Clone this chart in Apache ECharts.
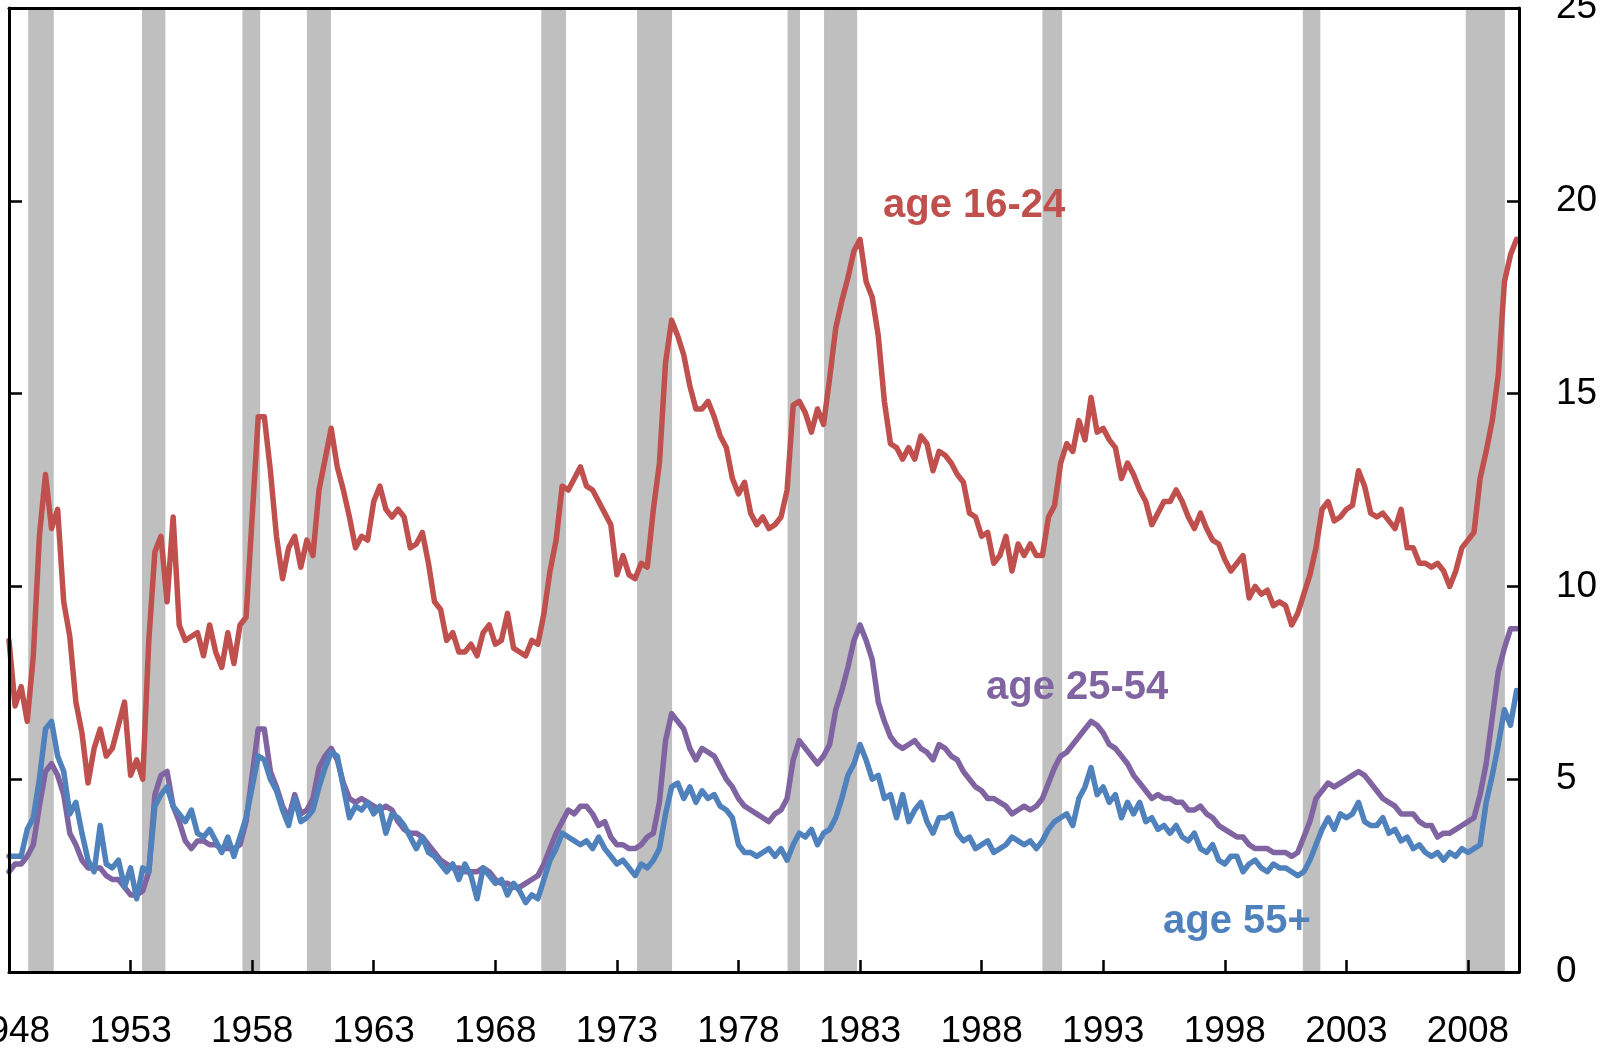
<!DOCTYPE html>
<html lang="en">
<head>
    <meta charset="UTF-8">
    <title>Unemployment rate by age</title>
    <style type="text/css">
        *{
            margin: 0px;
            padding: 0px;
        }
        body{
            background-color: #fff;
        }
        #chart{
            width: 1616px;
            height: 1051px;
        }
    </style>
</head>
<body>

<div id="chart"></div>

<script src="https://cdn.jsdelivr.net/npm/echarts/dist/echarts.min.js"></script>
<script type="text/javascript">
    // quarterly readings, first point = 1948 Q1, last point = 2010 Q1
    var startYear = 1948;
    var step = 0.25;

    var youth = [
        8.6, 6.9, 7.4, 6.5,      // 1948
        8.2, 11.3, 12.9, 11.5,   // 1949
        12.0, 9.6, 8.7, 7.0,     // 1950
        6.2, 4.9, 5.8, 6.3,      // 1951
        5.6, 5.8, 6.4, 7.0,      // 1952
        5.1, 5.5, 5.0, 8.6,      // 1953
        10.9, 11.3, 9.6, 11.8,   // 1954
        9.0, 8.6, 8.7, 8.8,      // 1955
        8.2, 9.0, 8.3, 7.9,      // 1956
        8.8, 8.0, 9.0, 9.2,      // 1957
        11.8, 14.4, 14.4, 13.0,  // 1958
        11.3, 10.2, 11.0, 11.3,  // 1959
        10.5, 11.2, 10.8, 12.5,  // 1960
        13.3, 14.1, 13.1, 12.5,  // 1961
        11.8, 11.0, 11.3, 11.2,  // 1962
        12.2, 12.6, 12.0, 11.8,  // 1963
        12.0, 11.8, 11.0, 11.1,  // 1964
        11.4, 10.6, 9.6, 9.4,    // 1965
        8.6, 8.8, 8.3, 8.3,      // 1966
        8.5, 8.2, 8.8, 9.0,      // 1967
        8.5, 8.6, 9.3, 8.4,      // 1968
        8.3, 8.2, 8.6, 8.5,      // 1969
        9.3, 10.4, 11.2, 12.6,   // 1970
        12.5, 12.8, 13.1, 12.6,  // 1971
        12.5, 12.2, 11.9, 11.6,  // 1972
        10.3, 10.8, 10.3, 10.2,  // 1973
        10.6, 10.5, 12.0, 13.2,  // 1974
        15.8, 16.9, 16.5, 16.0,  // 1975
        15.2, 14.6, 14.6, 14.8,  // 1976
        14.4, 13.9, 13.6, 12.8,  // 1977
        12.4, 12.7, 11.9, 11.6,  // 1978
        11.8, 11.5, 11.6, 11.8,  // 1979
        12.5, 14.7, 14.8, 14.5,  // 1980
        14.0, 14.6, 14.2, 15.4,  // 1981
        16.7, 17.4, 18.0, 18.7,  // 1982
        19.0, 17.9, 17.5, 16.5,  // 1983
        14.8, 13.7, 13.6, 13.3,  // 1984
        13.6, 13.3, 13.9, 13.7,  // 1985
        13.0, 13.5, 13.4, 13.2,  // 1986
        12.9, 12.7, 11.9, 11.8,  // 1987
        11.3, 11.4, 10.6, 10.8,  // 1988
        11.3, 10.4, 11.1, 10.8,  // 1989
        11.1, 10.8, 10.8, 11.8,  // 1990
        12.1, 13.2, 13.7, 13.5,  // 1991
        14.3, 13.8, 14.9, 14.0,  // 1992
        14.1, 13.8, 13.6, 12.8,  // 1993
        13.2, 12.9, 12.5, 12.2,  // 1994
        11.6, 11.9, 12.2, 12.2,  // 1995
        12.5, 12.2, 11.8, 11.5,  // 1996
        11.9, 11.5, 11.2, 11.1,  // 1997
        10.7, 10.4, 10.6, 10.8,  // 1998
        9.7, 10.0, 9.8, 9.9,     // 1999
        9.5, 9.6, 9.5, 9.0,      // 2000
        9.3, 9.8, 10.3, 11.0,    // 2001
        12.0, 12.2, 11.7, 11.8,  // 2002
        12.0, 12.1, 13.0, 12.6,  // 2003
        11.9, 11.8, 11.9, 11.7,  // 2004
        11.5, 12.0, 11.0, 11.0,  // 2005
        10.6, 10.6, 10.5, 10.6,  // 2006
        10.4, 10.0, 10.4, 11.0,  // 2007
        11.2, 11.4, 12.8, 13.5,  // 2008
        14.3, 15.5, 17.9, 18.6,  // 2009
        19.0                     // 2010
    ];

    var prime = [
        2.6, 2.8, 2.8, 3.0,   // 1948
        3.3, 4.3, 5.2, 5.4,   // 1949
        5.1, 4.6, 3.6, 3.3,   // 1950
        2.9, 2.7, 2.7, 2.7,   // 1951
        2.5, 2.4, 2.4, 2.2,   // 1952
        2.0, 2.0, 2.1, 2.6,   // 1953
        4.6, 5.1, 5.2, 4.3,   // 1954
        3.9, 3.4, 3.2, 3.4,   // 1955
        3.4, 3.3, 3.3, 3.2,   // 1956
        3.2, 3.2, 3.3, 3.9,   // 1957
        5.1, 6.3, 6.3, 5.2,   // 1958
        4.8, 4.3, 4.0, 4.6,   // 1959
        4.1, 4.2, 4.5, 5.3,   // 1960
        5.6, 5.8, 5.5, 4.9,   // 1961
        4.5, 4.4, 4.5, 4.4,   // 1962
        4.3, 4.2, 4.3, 4.2,   // 1963
        3.9, 3.7, 3.6, 3.6,   // 1964
        3.5, 3.3, 3.1, 2.9,   // 1965
        2.8, 2.7, 2.7, 2.6,   // 1966
        2.6, 2.6, 2.7, 2.6,   // 1967
        2.4, 2.3, 2.3, 2.2,   // 1968
        2.2, 2.3, 2.4, 2.5,   // 1969
        2.8, 3.2, 3.6, 3.9,   // 1970
        4.2, 4.1, 4.3, 4.3,   // 1971
        4.1, 3.8, 3.9, 3.5,   // 1972
        3.3, 3.3, 3.2, 3.2,   // 1973
        3.3, 3.5, 3.6, 4.4,   // 1974
        6.0, 6.7, 6.5, 6.3,   // 1975
        5.8, 5.5, 5.8, 5.7,   // 1976
        5.6, 5.3, 5.0, 4.8,   // 1977
        4.5, 4.3, 4.2, 4.1,   // 1978
        4.0, 3.9, 4.1, 4.2,   // 1979
        4.5, 5.5, 6.0, 5.8,   // 1980
        5.6, 5.4, 5.6, 5.9,   // 1981
        6.8, 7.3, 7.9, 8.6,   // 1982
        9.0, 8.6, 8.1, 7.0,   // 1983
        6.5, 6.1, 5.9, 5.8,   // 1984
        5.9, 6.0, 5.8, 5.7,   // 1985
        5.5, 5.9, 5.8, 5.6,   // 1986
        5.5, 5.2, 5.0, 4.8,   // 1987
        4.7, 4.5, 4.5, 4.4,   // 1988
        4.3, 4.1, 4.2, 4.3,   // 1989
        4.2, 4.3, 4.5, 4.9,   // 1990
        5.3, 5.6, 5.7, 5.9,   // 1991
        6.1, 6.3, 6.5, 6.4,   // 1992
        6.2, 5.9, 5.8, 5.6,   // 1993
        5.4, 5.1, 4.9, 4.7,   // 1994
        4.5, 4.6, 4.5, 4.5,   // 1995
        4.4, 4.4, 4.2, 4.2,   // 1996
        4.3, 4.1, 4.0, 3.8,   // 1997
        3.7, 3.6, 3.5, 3.5,   // 1998
        3.3, 3.2, 3.2, 3.2,   // 1999
        3.1, 3.1, 3.1, 3.0,   // 2000
        3.1, 3.5, 3.9, 4.5,   // 2001
        4.7, 4.9, 4.8, 4.9,   // 2002
        5.0, 5.1, 5.2, 5.1,   // 2003
        4.9, 4.7, 4.5, 4.4,   // 2004
        4.3, 4.1, 4.1, 4.1,   // 2005
        3.9, 3.8, 3.8, 3.5,   // 2006
        3.6, 3.6, 3.7, 3.8,   // 2007
        3.9, 4.0, 4.6, 5.4,   // 2008
        6.6, 7.8, 8.4, 8.9,   // 2009
        8.9                   // 2010
    ];

    var older = [
        3.0, 3.0, 3.0, 3.7,   // 1948
        4.0, 5.0, 6.3, 6.5,   // 1949
        5.6, 5.2, 4.1, 4.4,   // 1950
        3.6, 2.9, 2.6, 3.8,   // 1951
        2.8, 2.7, 2.9, 2.2,   // 1952
        2.7, 1.9, 2.7, 2.6,   // 1953
        4.3, 4.6, 4.8, 4.3,   // 1954
        4.1, 3.9, 4.2, 3.6,   // 1955
        3.5, 3.7, 3.4, 3.1,   // 1956
        3.5, 3.0, 3.5, 4.0,   // 1957
        4.8, 5.6, 5.5, 5.0,   // 1958
        4.7, 4.2, 3.8, 4.5,   // 1959
        3.9, 4.0, 4.2, 4.8,   // 1960
        5.3, 5.7, 5.6, 4.8,   // 1961
        4.0, 4.3, 4.2, 4.4,   // 1962
        4.1, 4.3, 3.6, 4.1,   // 1963
        4.0, 3.8, 3.5, 3.2,   // 1964
        3.5, 3.1, 3.0, 2.8,   // 1965
        2.6, 2.8, 2.4, 2.8,   // 1966
        2.5, 1.9, 2.7, 2.5,   // 1967
        2.3, 2.4, 2.0, 2.3,   // 1968
        2.1, 1.8, 2.0, 1.9,   // 1969
        2.4, 2.9, 3.2, 3.6,   // 1970
        3.5, 3.4, 3.3, 3.4,   // 1971
        3.2, 3.5, 3.2, 3.0,   // 1972
        2.8, 2.9, 2.7, 2.5,   // 1973
        2.8, 2.7, 2.9, 3.2,   // 1974
        4.1, 4.8, 4.9, 4.5,   // 1975
        4.8, 4.4, 4.7, 4.5,   // 1976
        4.6, 4.3, 4.2, 4.0,   // 1977
        3.3, 3.1, 3.1, 3.0,   // 1978
        3.1, 3.2, 3.0, 3.2,   // 1979
        2.9, 3.3, 3.6, 3.5,   // 1980
        3.7, 3.3, 3.6, 3.7,   // 1981
        4.0, 4.5, 5.1, 5.4,   // 1982
        5.9, 5.5, 5.0, 5.1,   // 1983
        4.5, 4.6, 4.0, 4.6,   // 1984
        3.9, 4.2, 4.4, 3.9,   // 1985
        3.6, 4.0, 4.0, 4.1,   // 1986
        3.6, 3.4, 3.5, 3.2,   // 1987
        3.3, 3.4, 3.1, 3.2,   // 1988
        3.3, 3.5, 3.4, 3.3,   // 1989
        3.4, 3.2, 3.4, 3.7,   // 1990
        3.9, 4.0, 4.1, 3.8,   // 1991
        4.5, 4.8, 5.3, 4.6,   // 1992
        4.8, 4.4, 4.6, 4.0,   // 1993
        4.4, 4.1, 4.4, 3.9,   // 1994
        4.0, 3.7, 3.8, 3.6,   // 1995
        3.8, 3.5, 3.4, 3.6,   // 1996
        3.2, 3.1, 3.3, 2.9,   // 1997
        2.8, 3.0, 3.0, 2.6,   // 1998
        2.8, 2.9, 2.7, 2.6,   // 1999
        2.8, 2.7, 2.7, 2.6,   // 2000
        2.5, 2.6, 2.9, 3.3,   // 2001
        3.7, 4.0, 3.7, 4.1,   // 2002
        4.0, 4.1, 4.4, 3.9,   // 2003
        3.8, 3.8, 4.0, 3.6,   // 2004
        3.7, 3.4, 3.5, 3.2,   // 2005
        3.3, 3.1, 3.0, 3.1,   // 2006
        2.9, 3.1, 3.0, 3.2,   // 2007
        3.1, 3.2, 3.3, 4.4,   // 2008
        5.1, 5.9, 6.8, 6.4,   // 2009
        7.3                   // 2010
    ];

    // recession spans (start, end) in years
    var recessions = [
        [1948.79, 1949.84], [1953.47, 1954.43], [1957.6, 1958.33], [1960.25, 1961.24],
        [1969.89, 1970.91], [1973.83, 1975.27], [1980.02, 1980.53], [1981.52, 1982.88],
        [1990.5, 1991.31], [2001.21, 2001.93], [2007.91, 2009.52]
    ];

    var yearLabels = ['1948', '1953', '1958', '1963', '1968', '1973', '1978',
        '1983', '1988', '1993', '1998', '2003', '2008'];

    var seriesNames = ['age 16-24', 'age 25-54', 'age 55+'];
    var colors = ['#C0504D', '#8064A2', '#4F81BD'];

    function toPoints(arr) {
        return arr.map(function (v, i) {
            return [i * step, v];
        });
    }

    var areaData = recessions.map(function (r) {
        return [{xAxis: r[0] - startYear}, {xAxis: r[1] - startYear}];
    });

    var myChart = echarts.init(document.getElementById('chart'));
    var fontFamily = '"Liberation Sans", Arial, sans-serif';

    var lineStyleOf = function (c) {
        return {color: c, width: 5.5, cap: 'round', join: 'round'};
    };
    var frameLine = {show: true, onZero: false, lineStyle: {color: '#000', width: 3}};

    var option = {
        animation: false,
        backgroundColor: '#fff',
        grid: {
            left: 9,
            right: 97,
            top: 8,
            bottom: 79,
            containLabel: false,
            outerBoundsMode: 'none'
        },
        xAxis: [
            {
                type: 'value',
                position: 'bottom',
                min: 0,
                max: 62.1,
                interval: 5,
                z: 5,
                axisLine: frameLine,
                axisTick: {show: true, inside: true, length: 12, lineStyle: {color: '#000', width: 2.5}},
                splitLine: {show: false},
                axisLabel: {
                    margin: 41,
                    color: '#000',
                    fontSize: 37,
                    fontFamily: fontFamily,
                    showMaxLabel: false,
                    formatter: function (v) {
                        var k = Math.round(v / 5);
                        if (Math.abs(v - k * 5) > 1e-6) return '';
                        return yearLabels[k] || '';
                    }
                }
            },
            {
                // top border only
                type: 'value',
                position: 'top',
                min: 0,
                max: 62.1,
                z: 5,
                axisLine: frameLine,
                axisTick: {show: false},
                axisLabel: {show: false},
                splitLine: {show: false}
            }
        ],
        yAxis: [
            {
                type: 'value',
                position: 'left',
                min: 0,
                max: 25,
                interval: 5,
                z: 5,
                axisLine: frameLine,
                axisTick: {show: true, inside: true, length: 13, lineStyle: {color: '#000', width: 2.5}},
                axisLabel: {show: false},
                splitLine: {show: false}
            },
            {
                type: 'value',
                position: 'right',
                min: 0,
                max: 25,
                interval: 5,
                z: 5,
                axisLine: frameLine,
                axisTick: {show: true, inside: true, length: 12, lineStyle: {color: '#000', width: 2.5}},
                axisLabel: {
                    margin: 37,
                    color: '#000',
                    fontSize: 37,
                    fontFamily: fontFamily
                },
                splitLine: {show: false}
            }
        ],
        graphic: [
            {type: 'text', x: 883, y: 206, z: 10,
                style: {text: seriesNames[0], fill: colors[0], fontSize: 40, fontWeight: 'bold',
                    fontFamily: fontFamily, verticalAlign: 'middle'}},
            {type: 'text', x: 986, y: 688, z: 10,
                style: {text: seriesNames[1], fill: colors[1], fontSize: 40, fontWeight: 'bold',
                    fontFamily: fontFamily, verticalAlign: 'middle'}},
            {type: 'text', x: 1163, y: 922, z: 10,
                style: {text: seriesNames[2], fill: colors[2], fontSize: 40, fontWeight: 'bold',
                    fontFamily: fontFamily, verticalAlign: 'middle'}}
        ],
        series: [
            {
                name: 'recession',
                type: 'line',
                data: [],
                z: 1,
                markArea: {
                    silent: true,
                    itemStyle: {color: '#BFBFBF', opacity: 1},
                    data: areaData
                }
            },
            {
                name: seriesNames[0],
                type: 'line',
                showSymbol: false,
                z: 3,
                lineStyle: lineStyleOf(colors[0]),
                data: toPoints(youth)
            },
            {
                name: seriesNames[1],
                type: 'line',
                showSymbol: false,
                z: 3,
                lineStyle: lineStyleOf(colors[1]),
                data: toPoints(prime)
            },
            {
                name: seriesNames[2],
                type: 'line',
                showSymbol: false,
                z: 3,
                lineStyle: lineStyleOf(colors[2]),
                data: toPoints(older)
            }
        ]
    };

    myChart.setOption(option);
</script>
</body>
</html>
